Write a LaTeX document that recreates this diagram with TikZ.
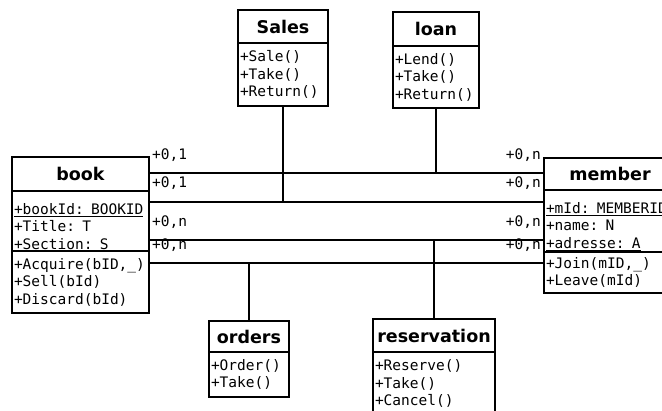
\documentclass[tikz,border=0pt]{standalone}
\usepackage{fontspec}
\setmonofont{DejaVu Sans Mono}
\newfontfamily\clsfont{DejaVu Sans}
\usepackage{tikz}
\usetikzlibrary{positioning}

% strut that pushes the attribute rows down to the divider
\newcommand{\attrtop}{\rule{0pt}{21.5pt}}

\tikzset{
  clsname/.style={draw, line width=1.5pt, outer sep=0pt, inner sep=0pt, anchor=north west,
    font=\clsfont\bfseries\fontsize{17.5}{19}\selectfont},
  clspart/.style={draw, line width=1.5pt, outer sep=0pt, inner xsep=2pt, inner ysep=0pt,
    align=left, font=\ttfamily\fontsize{14.5}{17.5}\selectfont},
  mult/.style={inner sep=0pt, font=\ttfamily\fontsize{14.5}{17.5}\selectfont},
  assoc/.style={line width=1.5pt}
}

\begin{document}
\begin{tikzpicture}[x=1pt, y=1pt]

\useasboundingbox (0,0) rectangle (662,411);

% Class book
\node[clsname, minimum width=137pt, minimum height=34pt] (bookT) at (12,254) {book};
\node[clspart, text width=133pt, minimum height=60pt, below=0pt of bookT] (bookA)
  {\attrtop\underline{+bookId: BOOKID}\\+Title: T\\+Section: S};
\node[clspart, text width=133pt, minimum height=62pt, below=0pt of bookA] (bookO)
  {+Acquire(bID,\_)\\+Sell(bId)\\+Discard(bId)};

% Class member
\node[clsname, minimum width=160pt, minimum height=32pt] (memberT) at (544,253) {\hspace*{-28pt}member};
\node[clspart, text width=156pt, minimum height=62pt, below=0pt of memberT] (memberA)
  {\attrtop\underline{+mId: MEMBERID}\\+name: N\\\underline{+adresse: A}};
\node[clspart, text width=156pt, minimum height=41pt, below=0pt of memberA] (memberO)
  {+Join(mID,\_)\\+Leave(mId)};

% Association classes
\node[clsname, minimum width=90pt, minimum height=33pt] (salesT) at (238,401) {Sales};
\node[clspart, text width=86pt, minimum height=63pt, below=0pt of salesT] (salesO)
  {+Sale()\\+Take()\\+Return()};

\node[clsname, minimum width=86pt, minimum height=34pt] (loanT) at (393,399) {loan};
\node[clspart, text width=82pt, minimum height=62pt, below=0pt of loanT] (loanO)
  {+Lend()\\+Take()\\+Return()};

\node[clsname, minimum width=80pt, minimum height=31pt] (ordT) at (209,90) {orders};
\node[clspart, text width=76pt, minimum height=45pt, below=0pt of ordT] (ordO)
  {+Order()\\+Take()};

\node[clsname, minimum width=122pt, minimum height=33pt] (resT) at (373,92) {reservation};
\node[clspart, text width=118pt, minimum height=63pt, below=0pt of resT] (resO)
  {+Reserve()\\+Take()\\+Cancel()};

% Association lines
\coordinate (loanY) at (0,238);
\coordinate (salesY) at (0,209);
\coordinate (resY) at (0,171);
\coordinate (ordY) at (0,148);

\draw[assoc] (bookT.east |- loanY) -- (memberT.west |- loanY);
\draw[assoc] (loanO.south) -- (loanO.south |- loanY);

\draw[assoc] (bookA.east |- salesY) -- (memberA.west |- salesY);
\draw[assoc] (salesO.south) -- (salesO.south |- salesY);

\draw[assoc] (bookA.east |- resY) -- (memberA.west |- resY);
\draw[assoc] (resT.north) -- (resT.north |- resY);

\draw[assoc] (bookO.east |- ordY) -- (memberO.west |- ordY);
\draw[assoc] (ordT.north) -- (ordT.north |- ordY);

% Multiplicities
\node[mult, anchor=west] (loanL) at (152,256) {+0,1};
\node[mult, anchor=east] (loanR) at (541,256) {+0,n};
\node[mult, anchor=west] (salesL) at (152,228) {+0,1};
\node[mult, anchor=east] (salesR) at (541,228) {+0,n};
\node[mult, anchor=west] (resL) at (152,189) {+0,n};
\node[mult, anchor=east] (resR) at (541,189) {+0,n};
\node[mult, anchor=west] (ordL) at (152,166) {+0,n};
\node[mult, anchor=east] (ordR) at (541,166) {+0,n};

\end{tikzpicture}
\end{document}
